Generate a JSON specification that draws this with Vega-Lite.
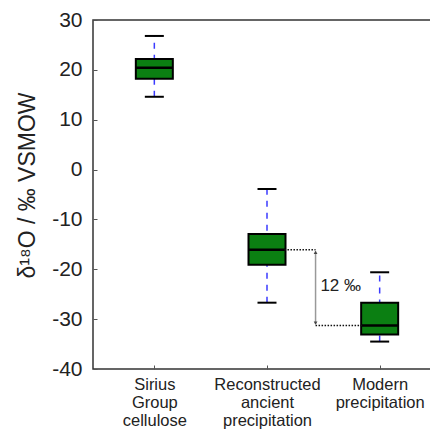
{
  "$schema": "https://vega.github.io/schema/vega-lite/v6.json",
  "width": 348,
  "height": 349,
  "autosize": "none",
  "padding": {"left": 93, "top": 20, "right": 0, "bottom": 60},
  "background": "white",
  "config": {
    "view": {"stroke": "#333333", "strokeWidth": 1.5},
    "font": "Liberation Sans",
    "axis": {"grid": false, "domain": false, "labelColor": "#222222", "titleColor": "#222222", "tickColor": "#555555"}
  },
  "datasets": {
    "boxes": [
      {"pos": 1, "group": "Sirius Group cellulose", "lower": 14.6, "q1": 18.2, "median": 20.4, "q3": 22.2, "upper": 26.8},
      {"pos": 2, "group": "Reconstructed ancient precipitation", "lower": -26.7, "q1": -19.1, "median": -16.1, "q3": -12.9, "upper": -3.9},
      {"pos": 3, "group": "Modern precipitation", "lower": -34.5, "q1": -33.1, "median": -31.3, "q3": -26.7, "upper": -20.6}
    ],
    "guides": [
      {"x": 2.155, "x2": 2.431, "y": -16.1},
      {"x": 2.431, "x2": 2.853, "y": -31.3}
    ],
    "arrow": [{"x": 2.431, "y": -16.4, "y2": -31.0}],
    "heads": [
      {"x": 2.431, "y": -16.6, "shape": "triangle-up"},
      {"x": 2.431, "y": -30.8, "shape": "triangle-down"}
    ],
    "label": [{"x": 2.474, "y": -23.3, "text": "12 ‰"}]
  },
  "layer": [
    {
      "data": {"name": "boxes"},
      "mark": {"type": "rule", "color": "#3b3bff", "strokeWidth": 1.5, "strokeDash": [6, 6]},
      "encoding": {
        "x": {
          "field": "pos", "type": "quantitative",
          "scale": {"domain": [0.5, 3.5], "nice": false, "zero": false},
          "axis": {
            "values": [1, 2, 3], "title": null, "tickSize": -4,
            "labelExpr": "datum.value == 1 ? ['Sirius', 'Group', 'cellulose'] : datum.value == 2 ? ['Reconstructed', 'ancient', 'precipitation'] : ['Modern', 'precipitation']",
            "labelFontSize": 16.5, "labelLineHeight": 18, "labelPadding": 11, "labelBaseline": "top"
          }
        },
        "y": {
          "field": "lower", "type": "quantitative",
          "scale": {"domain": [-40, 30], "nice": false},
          "axis": {
            "values": [-40, -30, -20, -10, 0, 10, 20, 30], "tickSize": -4,
            "labelExpr": "'' + datum.value",
            "labelFontSize": 21, "labelPadding": 15,
            "title": "δ¹⁸O / ‰ VSMOW", "titleFontSize": 23, "titleFontWeight": "normal",
            "titleX": -66, "titleY": 165, "titleAngle": -90, "titleBaseline": "middle", "titleAlign": "center"
          }
        },
        "y2": {"field": "upper"}
      }
    },
    {
      "data": {"name": "boxes"},
      "mark": {"type": "bar", "width": 37, "fill": "#0b7f12", "stroke": "black", "strokeWidth": 2},
      "encoding": {
        "x": {"field": "pos", "type": "quantitative"},
        "y": {"field": "q1", "type": "quantitative"},
        "y2": {"field": "q3"}
      }
    },
    {
      "data": {"name": "boxes"},
      "mark": {"type": "tick", "size": 37, "thickness": 2.5, "color": "black", "orient": "horizontal", "opacity": 1},
      "encoding": {
        "x": {"field": "pos", "type": "quantitative"},
        "y": {"field": "median", "type": "quantitative"}
      }
    },
    {
      "data": {"name": "boxes"},
      "mark": {"type": "tick", "size": 19, "thickness": 2, "color": "black", "orient": "horizontal", "opacity": 1},
      "encoding": {
        "x": {"field": "pos", "type": "quantitative"},
        "y": {"field": "upper", "type": "quantitative"}
      }
    },
    {
      "data": {"name": "boxes"},
      "mark": {"type": "tick", "size": 19, "thickness": 2, "color": "black", "orient": "horizontal", "opacity": 1},
      "encoding": {
        "x": {"field": "pos", "type": "quantitative"},
        "y": {"field": "lower", "type": "quantitative"}
      }
    },
    {
      "data": {"name": "guides"},
      "mark": {"type": "rule", "color": "#111111", "strokeWidth": 1.5, "strokeDash": [1.5, 1.5]},
      "encoding": {
        "x": {"field": "x", "type": "quantitative"},
        "x2": {"field": "x2"},
        "y": {"field": "y", "type": "quantitative"}
      }
    },
    {
      "data": {"name": "arrow"},
      "mark": {"type": "rule", "color": "#999999", "strokeWidth": 1.5},
      "encoding": {
        "x": {"field": "x", "type": "quantitative"},
        "y": {"field": "y", "type": "quantitative"},
        "y2": {"field": "y2"}
      }
    },
    {
      "data": {"name": "heads"},
      "mark": {"type": "point", "filled": true, "color": "#444444", "size": 14, "opacity": 1},
      "encoding": {
        "x": {"field": "x", "type": "quantitative"},
        "y": {"field": "y", "type": "quantitative"},
        "shape": {"field": "shape", "type": "nominal", "scale": null, "legend": null}
      }
    },
    {
      "data": {"name": "label"},
      "mark": {"type": "text", "fontSize": 17, "align": "left", "baseline": "middle", "color": "#222222"},
      "encoding": {
        "x": {"field": "x", "type": "quantitative"},
        "y": {"field": "y", "type": "quantitative"},
        "text": {"field": "text"}
      }
    }
  ]
}
